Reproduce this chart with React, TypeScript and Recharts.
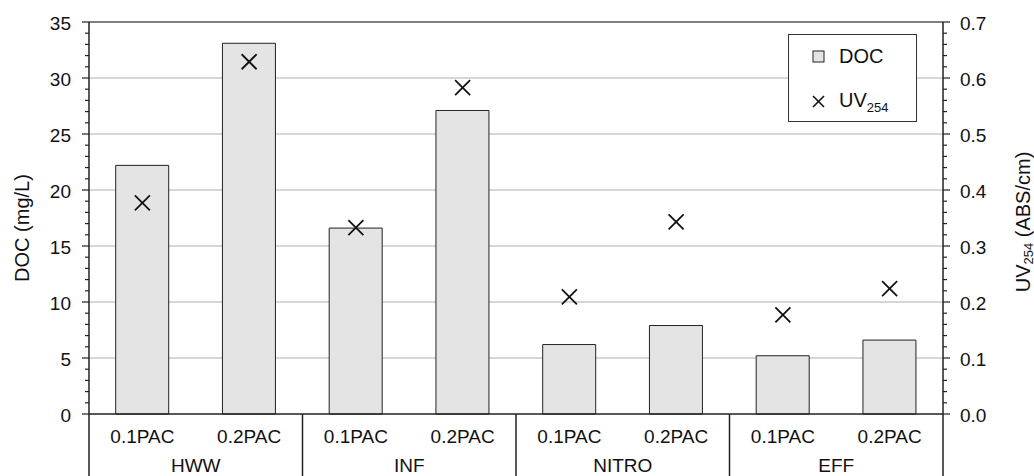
import React from 'react';
import {
  ComposedChart, Bar, Scatter, XAxis, YAxis, CartesianGrid, Legend, ReferenceLine,
} from 'recharts';

const treatments = ['0.1PAC', '0.2PAC', '0.1PAC', '0.2PAC', '0.1PAC', '0.2PAC', '0.1PAC', '0.2PAC'];
const groups = ['HWW', 'HWW', 'INF', 'INF', 'NITRO', 'NITRO', 'EFF', 'EFF'];
const docValues = [22.2, 33.1, 16.6, 27.1, 6.2, 7.9, 5.2, 6.6];
const uvValues = [0.377, 0.629, 0.333, 0.583, 0.209, 0.343, 0.177, 0.224];

const leftMajor = [0, 5, 10, 15, 20, 25, 30, 35];
const leftAll = Array.from({ length: 36 }, (_, i) => i);
const rightAll = Array.from({ length: 36 }, (_, i) => +(i * 0.02).toFixed(2));

const data = treatments.map((t, i) => ({
  key: `${groups[i]}-${t}-${i}`,
  treatment: t,
  group: groups[i],
  doc: docValues[i],
  uv: uvValues[i],
}));

const FONT = 'Liberation Sans, Arial, sans-serif';
const AXIS = '#222';
const TICK_FS = 19;

const LeftTick = (props: any) => {
  const { x, y, payload } = props;
  const v = payload.value;
  const major = v % 5 === 0;
  return (
    <g>
      <line x1={x - (major ? 7 : 4)} x2={x} y1={y} y2={y} stroke={AXIS} strokeWidth={1.2} />
      {major && (
        <text x={x - 18} y={y} dy={1} textAnchor="end" dominantBaseline="central"
          fontFamily={FONT} fontSize={TICK_FS} fill="#111">{v}</text>
      )}
    </g>
  );
};

const RightTick = (props: any) => {
  const { x, y, payload } = props;
  const v = payload.value;
  const major = Math.abs(Math.round(v * 10) - v * 10) < 1e-6;
  return (
    <g>
      <line x1={x} x2={x + (major ? 7 : 4)} y1={y} y2={y} stroke={AXIS} strokeWidth={1.2} />
      {major && (
        <text x={x + 17} y={y} dy={1} textAnchor="start" dominantBaseline="central"
          fontFamily={FONT} fontSize={TICK_FS} fill="#111">{v.toFixed(1)}</text>
      )}
    </g>
  );
};

const BottomTick = (props: any) => {
  const { x, y, payload, index } = props;
  const half = payload.offset || 53.35;
  const i = index ?? payload.index;
  const bottom = 476;
  return (
    <g>
      <text x={x} y={y + 22} textAnchor="middle" dominantBaseline="central"
        fontFamily={FONT} fontSize={TICK_FS} fill="#111">{payload.value}</text>
      {i % 2 === 0 && (
        <>
          <text x={x + half} y={y + 51} textAnchor="middle" dominantBaseline="central"
            fontFamily={FONT} fontSize={TICK_FS} fill="#111">{groups[i]}</text>
          <line x1={x - half} x2={x - half} y1={y} y2={bottom} stroke={AXIS} strokeWidth={1.5} />
        </>
      )}
      {i === treatments.length - 1 && (
        <line x1={x + half} x2={x + half} y1={y} y2={bottom} stroke={AXIS} strokeWidth={1.5} />
      )}
    </g>
  );
};

const XMark = (props: any) => {
  const { cx, cy } = props;
  if (cx == null || cy == null) return null;
  const s = 7.5;
  return (
    <g>
      <line x1={cx - s} y1={cy - s} x2={cx + s} y2={cy + s} stroke="#111" strokeWidth={1.8} />
      <line x1={cx - s} y1={cy + s} x2={cx + s} y2={cy - s} stroke="#111" strokeWidth={1.8} />
    </g>
  );
};

const LegendBox = () => (
  <div style={{
    width: 129, height: 88, boxSizing: 'border-box', border: '1.5px solid #333',
    background: '#fff', fontFamily: FONT, fontSize: 20, color: '#111', position: 'relative',
  }}>
    <div style={{ position: 'absolute', left: 23, top: 10, display: 'flex', alignItems: 'center' }}>
      <svg width={14} height={14} style={{ marginRight: 13 }}>
        <rect x={1} y={1} width={11} height={11} fill="#e4e4e4" stroke="#222" strokeWidth={1} />
      </svg>
      <span>DOC</span>
    </div>
    <div style={{ position: 'absolute', left: 23, top: 54, display: 'flex', alignItems: 'center' }}>
      <svg width={14} height={14} style={{ marginRight: 13 }}>
        <line x1={1} y1={1} x2={12} y2={12} stroke="#111" strokeWidth={1.6} />
        <line x1={1} y1={12} x2={12} y2={1} stroke="#111" strokeWidth={1.6} />
      </svg>
      <span>UV<sub style={{ fontSize: 13 }}>254</sub></span>
    </div>
  </div>
);

const LeftLabel = (props: any) => {
  const vb = props.viewBox || { x: 0, y: 22, width: 89, height: 392 };
  const cx = vb.x + 22;
  const cy = vb.y + vb.height / 2 + 10;
  return (
    <text x={cx} y={cy} transform={`rotate(-90, ${cx}, ${cy})`} textAnchor="middle"
      dominantBaseline="central" fontFamily={FONT} fontSize={20} fill="#111">DOC (mg/L)</text>
  );
};

const RightLabel = (props: any) => {
  const vb = props.viewBox || { x: 943, y: 22, width: 91, height: 392 };
  const cx = vb.x + 80;
  const cy = vb.y + vb.height / 2 + 4;
  return (
    <text x={cx} y={cy} transform={`rotate(-90, ${cx}, ${cy})`} textAnchor="middle"
      dominantBaseline="central" fontFamily={FONT} fontSize={20} fill="#111">
      UV<tspan fontSize={13} dy={5}>254</tspan><tspan dy={-5}> (ABS/cm)</tspan>
    </text>
  );
};

const gridGen = (args: any) => {
  const yAxis = args.yAxis;
  if (yAxis && typeof yAxis.scale === 'function') {
    return leftMajor.slice(1, -1).map((v) => yAxis.scale(v));
  }
  const off = args.offset;
  return leftMajor.slice(1, -1).map((v) => off.top + off.height * (1 - v / 35));
};

export default function App() {
  return (
    <div style={{ position: 'absolute', left: 0, top: 0, width: 1034, height: 476, background: '#fff' }}>
      <ComposedChart
        width={1034}
        height={476}
        data={data}
        margin={{ top: 22, right: 0, left: 0, bottom: 0 }}
        barCategoryGap="25%"
      >
        <CartesianGrid
          vertical={false}
          stroke="#c8c8c8"
          strokeWidth={1.5}
          yAxisId="left"
          horizontalCoordinatesGenerator={gridGen}
        />
        <XAxis
          dataKey="treatment"
          allowDuplicatedCategory
          height={62}
          tickSize={0}
          tickMargin={0}
          interval={0}
          tickLine={false}
          axisLine={{ stroke: AXIS, strokeWidth: 1.5 }}
          tick={<BottomTick />}
        />
        <YAxis
          yAxisId="left"
          orientation="left"
          width={89}
          domain={[0, 35]}
          ticks={leftAll}
          interval={0}
          tickSize={0}
          tickMargin={0}
          tickLine={false}
          axisLine={{ stroke: AXIS, strokeWidth: 1.5 }}
          tick={<LeftTick />}
          label={<LeftLabel />}
        />
        <YAxis
          yAxisId="right"
          orientation="right"
          width={91}
          domain={[0, 0.7]}
          ticks={rightAll}
          interval={0}
          tickSize={0}
          tickMargin={0}
          tickLine={false}
          axisLine={{ stroke: AXIS, strokeWidth: 1.5 }}
          tick={<RightTick />}
          label={<RightLabel />}
        />
        <ReferenceLine yAxisId="left" y={35} stroke="#555" strokeWidth={1.5} />
        <Bar yAxisId="left" dataKey="doc" name="DOC" fill="#e4e4e4" stroke="#222" strokeWidth={1}
          isAnimationActive={false} />
        <Scatter yAxisId="right" dataKey="uv" name="UV254" shape={<XMark />} isAnimationActive={false} />
        <Legend
          layout="vertical"
          align="center"
          verticalAlign="middle"
          content={<LegendBox />}
          wrapperStyle={{ position: 'absolute', left: 788, top: 34, width: 129, height: 88 }}
        />
      </ComposedChart>
    </div>
  );
}
